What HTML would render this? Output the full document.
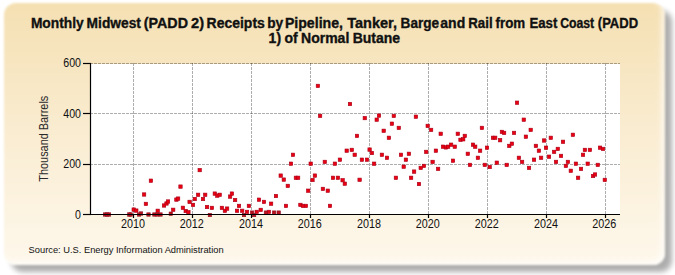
<!DOCTYPE html>
<html><head><meta charset="utf-8"><style>
html,body{margin:0;padding:0;background:#fff;width:675px;height:275px;overflow:hidden;}
#box{position:absolute;left:4px;top:3px;width:660.5px;height:261.5px;border-radius:12px;
background:linear-gradient(to bottom,rgb(245,224,178) 0%,rgb(250,237,211) 52%,rgb(254,248,236) 100%);
box-shadow:7px 7px 5px rgba(0,0,0,0.32), inset -4px -4px 5px rgba(255,255,255,0.6);filter:blur(1.3px);}
svg{position:absolute;left:0;top:0;}
text{font-family:"Liberation Sans",sans-serif;fill:#111;}
</style></head><body>
<div id="box"></div>
<svg width="675" height="275" viewBox="0 0 675 275">
<rect x="90" y="64" width="530" height="150" fill="#fff"/>
<g stroke="rgba(0,0,0,0.32)" stroke-width="1" stroke-dasharray="3,1" stroke-dashoffset="1"><line x1="91" y1="63.5" x2="620" y2="63.5"/><line x1="91" y1="113.5" x2="620" y2="113.5"/><line x1="91" y1="164.5" x2="620" y2="164.5"/></g>
<g stroke="rgba(0,0,0,0.32)" stroke-width="1" stroke-dasharray="3,1"><line x1="133.5" y1="63" x2="133.5" y2="214"/><line x1="192.5" y1="63" x2="192.5" y2="214"/><line x1="251.5" y1="63" x2="251.5" y2="214"/><line x1="310.5" y1="63" x2="310.5" y2="214"/><line x1="369.5" y1="63" x2="369.5" y2="214"/><line x1="428.5" y1="63" x2="428.5" y2="214"/><line x1="487.5" y1="63" x2="487.5" y2="214"/><line x1="546.5" y1="63" x2="546.5" y2="214"/><line x1="605.5" y1="63" x2="605.5" y2="214"/></g>
<g fill="#ea0010" stroke="#a8001a" stroke-width="0.6"><rect x="132.00" y="207.90" width="3.4" height="3.4"/><rect x="134.60" y="208.90" width="3.4" height="3.4"/><rect x="144.20" y="202.20" width="3.4" height="3.4"/><rect x="142.40" y="192.80" width="3.4" height="3.4"/><rect x="149.20" y="179.00" width="3.4" height="3.4"/><rect x="156.00" y="209.10" width="3.4" height="3.4"/><rect x="162.30" y="203.80" width="3.4" height="3.4"/><rect x="164.80" y="201.80" width="3.4" height="3.4"/><rect x="166.30" y="199.80" width="3.4" height="3.4"/><rect x="171.50" y="208.10" width="3.4" height="3.4"/><rect x="174.70" y="197.90" width="3.4" height="3.4"/><rect x="176.40" y="196.90" width="3.4" height="3.4"/><rect x="178.80" y="184.90" width="3.4" height="3.4"/><rect x="181.20" y="206.10" width="3.4" height="3.4"/><rect x="184.00" y="209.30" width="3.4" height="3.4"/><rect x="186.70" y="210.50" width="3.4" height="3.4"/><rect x="187.90" y="200.20" width="3.4" height="3.4"/><rect x="191.30" y="203.20" width="3.4" height="3.4"/><rect x="193.10" y="197.30" width="3.4" height="3.4"/><rect x="196.40" y="193.10" width="3.4" height="3.4"/><rect x="201.30" y="197.30" width="3.4" height="3.4"/><rect x="203.50" y="193.10" width="3.4" height="3.4"/><rect x="205.30" y="205.30" width="3.4" height="3.4"/><rect x="210.20" y="206.20" width="3.4" height="3.4"/><rect x="213.10" y="191.90" width="3.4" height="3.4"/><rect x="215.60" y="193.90" width="3.4" height="3.4"/><rect x="218.00" y="193.10" width="3.4" height="3.4"/><rect x="220.20" y="206.20" width="3.4" height="3.4"/><rect x="223.20" y="209.10" width="3.4" height="3.4"/><rect x="225.40" y="206.90" width="3.4" height="3.4"/><rect x="228.40" y="194.90" width="3.4" height="3.4"/><rect x="230.20" y="191.90" width="3.4" height="3.4"/><rect x="233.40" y="198.30" width="3.4" height="3.4"/><rect x="237.30" y="204.20" width="3.4" height="3.4"/><rect x="235.30" y="209.10" width="3.4" height="3.4"/><rect x="240.50" y="209.10" width="3.4" height="3.4"/><rect x="245.30" y="210.20" width="3.4" height="3.4"/><rect x="247.20" y="204.20" width="3.4" height="3.4"/><rect x="255.00" y="210.20" width="3.4" height="3.4"/><rect x="257.30" y="198.00" width="3.4" height="3.4"/><rect x="259.00" y="208.20" width="3.4" height="3.4"/><rect x="262.30" y="200.20" width="3.4" height="3.4"/><rect x="267.20" y="210.20" width="3.4" height="3.4"/><rect x="269.40" y="202.00" width="3.4" height="3.4"/><rect x="274.30" y="194.30" width="3.4" height="3.4"/><rect x="198.00" y="168.40" width="3.4" height="3.4"/><rect x="286.10" y="184.20" width="3.4" height="3.4"/><rect x="284.30" y="204.20" width="3.4" height="3.4"/><rect x="298.70" y="203.20" width="3.4" height="3.4"/><rect x="301.20" y="204.20" width="3.4" height="3.4"/><rect x="304.20" y="204.20" width="3.4" height="3.4"/><rect x="306.50" y="189.00" width="3.4" height="3.4"/><rect x="321.20" y="187.20" width="3.4" height="3.4"/><rect x="326.10" y="189.00" width="3.4" height="3.4"/><rect x="328.30" y="204.20" width="3.4" height="3.4"/><rect x="343.10" y="182.00" width="3.4" height="3.4"/><rect x="291.30" y="153.10" width="3.4" height="3.4"/><rect x="289.30" y="162.00" width="3.4" height="3.4"/><rect x="309.00" y="162.00" width="3.4" height="3.4"/><rect x="323.10" y="160.20" width="3.4" height="3.4"/><rect x="333.20" y="162.00" width="3.4" height="3.4"/><rect x="338.20" y="158.00" width="3.4" height="3.4"/><rect x="345.00" y="149.00" width="3.4" height="3.4"/><rect x="350.10" y="148.20" width="3.4" height="3.4"/><rect x="353.00" y="153.10" width="3.4" height="3.4"/><rect x="360.20" y="158.00" width="3.4" height="3.4"/><rect x="365.30" y="158.00" width="3.4" height="3.4"/><rect x="279.00" y="173.90" width="3.4" height="3.4"/><rect x="282.10" y="177.90" width="3.4" height="3.4"/><rect x="294.20" y="176.10" width="3.4" height="3.4"/><rect x="296.40" y="176.10" width="3.4" height="3.4"/><rect x="313.20" y="173.90" width="3.4" height="3.4"/><rect x="310.80" y="178.30" width="3.4" height="3.4"/><rect x="331.30" y="176.10" width="3.4" height="3.4"/><rect x="336.20" y="176.10" width="3.4" height="3.4"/><rect x="340.90" y="178.50" width="3.4" height="3.4"/><rect x="357.90" y="178.10" width="3.4" height="3.4"/><rect x="318.40" y="114.20" width="3.4" height="3.4"/><rect x="348.30" y="102.30" width="3.4" height="3.4"/><rect x="363.10" y="116.40" width="3.4" height="3.4"/><rect x="355.30" y="134.20" width="3.4" height="3.4"/><rect x="316.20" y="84.20" width="3.4" height="3.4"/><rect x="367.90" y="147.90" width="3.4" height="3.4"/><rect x="370.20" y="151.30" width="3.4" height="3.4"/><rect x="372.40" y="162.00" width="3.4" height="3.4"/><rect x="380.20" y="153.10" width="3.4" height="3.4"/><rect x="385.30" y="156.10" width="3.4" height="3.4"/><rect x="394.20" y="176.10" width="3.4" height="3.4"/><rect x="399.30" y="153.10" width="3.4" height="3.4"/><rect x="404.20" y="158.00" width="3.4" height="3.4"/><rect x="407.20" y="152.10" width="3.4" height="3.4"/><rect x="402.00" y="165.00" width="3.4" height="3.4"/><rect x="409.40" y="176.10" width="3.4" height="3.4"/><rect x="412.40" y="169.90" width="3.4" height="3.4"/><rect x="419.00" y="166.20" width="3.4" height="3.4"/><rect x="422.30" y="164.20" width="3.4" height="3.4"/><rect x="424.50" y="150.20" width="3.4" height="3.4"/><rect x="430.90" y="160.20" width="3.4" height="3.4"/><rect x="434.20" y="149.00" width="3.4" height="3.4"/><rect x="436.40" y="167.20" width="3.4" height="3.4"/><rect x="441.30" y="145.00" width="3.4" height="3.4"/><rect x="444.20" y="145.70" width="3.4" height="3.4"/><rect x="446.40" y="145.00" width="3.4" height="3.4"/><rect x="449.40" y="143.00" width="3.4" height="3.4"/><rect x="453.10" y="145.00" width="3.4" height="3.4"/><rect x="451.30" y="159.00" width="3.4" height="3.4"/><rect x="417.30" y="182.30" width="3.4" height="3.4"/><rect x="377.30" y="113.90" width="3.4" height="3.4"/><rect x="375.00" y="118.00" width="3.4" height="3.4"/><rect x="382.00" y="129.10" width="3.4" height="3.4"/><rect x="387.20" y="136.10" width="3.4" height="3.4"/><rect x="392.10" y="114.20" width="3.4" height="3.4"/><rect x="390.20" y="122.00" width="3.4" height="3.4"/><rect x="397.10" y="126.20" width="3.4" height="3.4"/><rect x="414.20" y="115.00" width="3.4" height="3.4"/><rect x="426.00" y="124.20" width="3.4" height="3.4"/><rect x="429.40" y="128.20" width="3.4" height="3.4"/><rect x="439.00" y="132.10" width="3.4" height="3.4"/><rect x="456.10" y="132.10" width="3.4" height="3.4"/><rect x="458.80" y="138.10" width="3.4" height="3.4"/><rect x="461.50" y="137.60" width="3.4" height="3.4"/><rect x="466.10" y="152.10" width="3.4" height="3.4"/><rect x="468.30" y="163.20" width="3.4" height="3.4"/><rect x="471.30" y="143.00" width="3.4" height="3.4"/><rect x="473.50" y="145.00" width="3.4" height="3.4"/><rect x="476.20" y="156.10" width="3.4" height="3.4"/><rect x="478.40" y="149.00" width="3.4" height="3.4"/><rect x="483.10" y="163.20" width="3.4" height="3.4"/><rect x="485.30" y="146.00" width="3.4" height="3.4"/><rect x="488.00" y="165.30" width="3.4" height="3.4"/><rect x="495.10" y="161.00" width="3.4" height="3.4"/><rect x="498.40" y="138.50" width="3.4" height="3.4"/><rect x="505.00" y="163.20" width="3.4" height="3.4"/><rect x="507.60" y="144.20" width="3.4" height="3.4"/><rect x="510.20" y="142.00" width="3.4" height="3.4"/><rect x="517.20" y="156.10" width="3.4" height="3.4"/><rect x="520.40" y="160.20" width="3.4" height="3.4"/><rect x="527.30" y="166.20" width="3.4" height="3.4"/><rect x="532.30" y="158.00" width="3.4" height="3.4"/><rect x="534.20" y="144.20" width="3.4" height="3.4"/><rect x="537.20" y="149.00" width="3.4" height="3.4"/><rect x="539.40" y="156.10" width="3.4" height="3.4"/><rect x="542.40" y="138.80" width="3.4" height="3.4"/><rect x="544.30" y="146.00" width="3.4" height="3.4"/><rect x="547.30" y="155.00" width="3.4" height="3.4"/><rect x="463.10" y="134.20" width="3.4" height="3.4"/><rect x="480.20" y="126.20" width="3.4" height="3.4"/><rect x="491.30" y="136.10" width="3.4" height="3.4"/><rect x="493.50" y="136.10" width="3.4" height="3.4"/><rect x="500.20" y="130.20" width="3.4" height="3.4"/><rect x="502.40" y="131.20" width="3.4" height="3.4"/><rect x="512.30" y="131.20" width="3.4" height="3.4"/><rect x="515.30" y="101.00" width="3.4" height="3.4"/><rect x="522.10" y="118.00" width="3.4" height="3.4"/><rect x="529.00" y="128.20" width="3.4" height="3.4"/><rect x="524.20" y="135.00" width="3.4" height="3.4"/><rect x="549.10" y="136.10" width="3.4" height="3.4"/><rect x="552.40" y="150.20" width="3.4" height="3.4"/><rect x="556.10" y="147.20" width="3.4" height="3.4"/><rect x="554.30" y="160.20" width="3.4" height="3.4"/><rect x="559.30" y="154.20" width="3.4" height="3.4"/><rect x="561.30" y="140.10" width="3.4" height="3.4"/><rect x="564.20" y="164.20" width="3.4" height="3.4"/><rect x="566.20" y="160.20" width="3.4" height="3.4"/><rect x="569.10" y="169.10" width="3.4" height="3.4"/><rect x="574.20" y="162.00" width="3.4" height="3.4"/><rect x="576.40" y="176.10" width="3.4" height="3.4"/><rect x="579.30" y="167.20" width="3.4" height="3.4"/><rect x="581.30" y="153.10" width="3.4" height="3.4"/><rect x="583.20" y="148.20" width="3.4" height="3.4"/><rect x="588.20" y="148.20" width="3.4" height="3.4"/><rect x="586.00" y="162.00" width="3.4" height="3.4"/><rect x="591.30" y="174.30" width="3.4" height="3.4"/><rect x="593.30" y="172.80" width="3.4" height="3.4"/><rect x="596.10" y="163.20" width="3.4" height="3.4"/><rect x="598.30" y="146.00" width="3.4" height="3.4"/><rect x="601.30" y="147.20" width="3.4" height="3.4"/><rect x="603.10" y="178.20" width="3.4" height="3.4"/><rect x="571.20" y="133.10" width="3.4" height="3.4"/></g><g fill="#b8101c" stroke="#901020" stroke-width="0.6"><rect x="103.30" y="212.80" width="3.4" height="3.4"/><rect x="105.30" y="212.80" width="3.4" height="3.4"/><rect x="107.30" y="212.80" width="3.4" height="3.4"/><rect x="127.60" y="212.80" width="3.4" height="3.4"/><rect x="128.90" y="212.80" width="3.4" height="3.4"/><rect x="137.30" y="212.80" width="3.4" height="3.4"/><rect x="139.30" y="211.80" width="3.4" height="3.4"/><rect x="146.80" y="212.80" width="3.4" height="3.4"/><rect x="152.70" y="212.80" width="3.4" height="3.4"/><rect x="155.70" y="212.80" width="3.4" height="3.4"/><rect x="158.80" y="212.80" width="3.4" height="3.4"/><rect x="169.10" y="212.00" width="3.4" height="3.4"/><rect x="208.20" y="213.30" width="3.4" height="3.4"/><rect x="242.30" y="213.30" width="3.4" height="3.4"/><rect x="250.40" y="210.90" width="3.4" height="3.4"/><rect x="252.40" y="213.30" width="3.4" height="3.4"/><rect x="264.20" y="210.90" width="3.4" height="3.4"/><rect x="272.40" y="210.90" width="3.4" height="3.4"/><rect x="277.00" y="210.90" width="3.4" height="3.4"/></g>
<g stroke="#000" stroke-width="1.2">
<line x1="90.5" y1="63" x2="90.5" y2="215"/>
<line x1="90" y1="214.5" x2="620" y2="214.5"/>
<line x1="83" y1="63.5" x2="91" y2="63.5"/><line x1="83" y1="113.5" x2="91" y2="113.5"/><line x1="83" y1="164.5" x2="91" y2="164.5"/><line x1="83" y1="214.5" x2="91" y2="214.5"/><line x1="133.5" y1="214" x2="133.5" y2="218"/><line x1="192.5" y1="214" x2="192.5" y2="218"/><line x1="251.5" y1="214" x2="251.5" y2="218"/><line x1="310.5" y1="214" x2="310.5" y2="218"/><line x1="369.5" y1="214" x2="369.5" y2="218"/><line x1="428.5" y1="214" x2="428.5" y2="218"/><line x1="487.5" y1="214" x2="487.5" y2="218"/><line x1="546.5" y1="214" x2="546.5" y2="218"/><line x1="605.5" y1="214" x2="605.5" y2="218"/>
</g>
<g font-size="12.5"><text x="81" y="66.8" text-anchor="end" textLength="17.700000000000003" lengthAdjust="spacingAndGlyphs">600</text><text x="81" y="117.8" text-anchor="end" textLength="17.700000000000003" lengthAdjust="spacingAndGlyphs">400</text><text x="81" y="167.9" text-anchor="end" textLength="17.700000000000003" lengthAdjust="spacingAndGlyphs">200</text><text x="81" y="219.0" text-anchor="end" textLength="5.9" lengthAdjust="spacingAndGlyphs">0</text></g>
<g font-size="12.5"><text x="121.10" y="228" textLength="24.0" lengthAdjust="spacingAndGlyphs">2010</text><text x="179.80" y="228" textLength="24.0" lengthAdjust="spacingAndGlyphs">2012</text><text x="239.10" y="228" textLength="24.0" lengthAdjust="spacingAndGlyphs">2014</text><text x="297.80" y="228" textLength="24.0" lengthAdjust="spacingAndGlyphs">2016</text><text x="356.95" y="228" textLength="24.0" lengthAdjust="spacingAndGlyphs">2018</text><text x="415.80" y="228" textLength="24.0" lengthAdjust="spacingAndGlyphs">2020</text><text x="474.80" y="228" textLength="24.0" lengthAdjust="spacingAndGlyphs">2022</text><text x="533.90" y="228" textLength="24.0" lengthAdjust="spacingAndGlyphs">2024</text><text x="592.15" y="228" textLength="24.0" lengthAdjust="spacingAndGlyphs">2026</text></g>
<text style="fill:#2a2a2a" x="47.8" y="138.7" font-size="12.3" text-anchor="middle" textLength="86" lengthAdjust="spacingAndGlyphs" transform="rotate(-90 47.8 138.7)">Thousand Barrels</text>
<g font-weight="bold">
<g font-size="14.0" stroke="#111" stroke-width="0.35"><text x="30.90" y="27.9" textLength="52.80" lengthAdjust="spacingAndGlyphs">Monthly</text><text x="86.60" y="27.9" textLength="54.30" lengthAdjust="spacingAndGlyphs">Midwest</text><text x="143.80" y="27.9" textLength="44.20" lengthAdjust="spacingAndGlyphs">(PADD</text><text x="191.00" y="27.9" textLength="13.00" lengthAdjust="spacingAndGlyphs">2)</text><text x="206.60" y="27.9" textLength="58.20" lengthAdjust="spacingAndGlyphs">Receipts</text><text x="267.20" y="27.9" textLength="16.00" lengthAdjust="spacingAndGlyphs">by</text><text x="284.90" y="27.9" textLength="58.10" lengthAdjust="spacingAndGlyphs">Pipeline,</text><text x="347.20" y="27.9" textLength="49.80" lengthAdjust="spacingAndGlyphs">Tanker,</text><text x="400.60" y="27.9" textLength="38.50" lengthAdjust="spacingAndGlyphs">Barge</text><text x="440.30" y="27.9" textLength="24.90" lengthAdjust="spacingAndGlyphs">and</text><text x="468.30" y="27.9" textLength="24.30" lengthAdjust="spacingAndGlyphs">Rail</text><text x="495.50" y="27.9" textLength="29.70" lengthAdjust="spacingAndGlyphs">from</text><text x="529.40" y="27.9" textLength="27.90" lengthAdjust="spacingAndGlyphs">East</text><text x="560.20" y="27.9" textLength="34.00" lengthAdjust="spacingAndGlyphs">Coast</text><text x="597.80" y="27.9" textLength="40.30" lengthAdjust="spacingAndGlyphs">(PADD</text></g>
<text x="268.6" y="42.8" font-size="14.0" word-spacing="-0.5" stroke="#111" stroke-width="0.35">1) of Normal Butane</text>
</g>
<text x="28.6" y="252.7" font-size="9.2" textLength="195" lengthAdjust="spacingAndGlyphs">Source: U.S. Energy Information Administration</text>
</svg>
</body></html>
